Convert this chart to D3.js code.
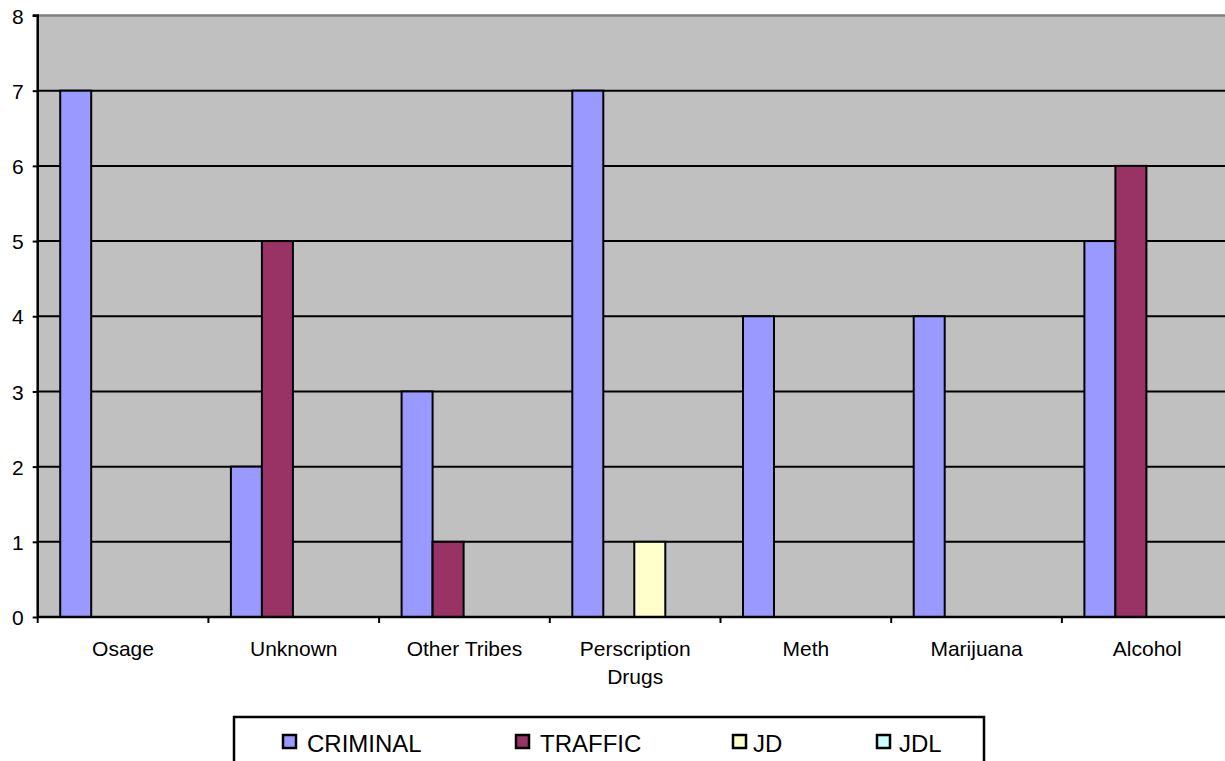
<!DOCTYPE html>
<html><head><meta charset="utf-8">
<script src="https://cdn.jsdelivr.net/npm/d3@7"></script>
<style>html,body{margin:0;padding:0;background:#fff;overflow:hidden}svg{display:block}</style>
</head><body>
<script>
const categories = ["Osage","Unknown","Other Tribes","Perscription Drugs","Meth","Marijuana","Alcohol"];
const seriesNames = ["CRIMINAL","TRAFFIC","JD","JDL"];
const criminal = [7,2,3,7,4,4,5];
const traffic  = [0,5,1,0,0,0,6];
const jd       = [0,0,0,1,0,0,0];
const jdl      = [0,0,0,0,0,0,0];
const yTicks = [0,1,2,3,4,5,6,7,8];
const colors = ["#9999FF","#993366","#FFFFCC","#CCFFFF"];

const W = 1225, H = 761;
const svg = d3.select("body").append("svg").attr("width",W).attr("height",H);
const font = "Liberation Sans, Arial, sans-serif";

const x0 = d3.scaleBand().domain(categories).range([37.7, 37.7+7*170.7]).padding(0);
const x1 = d3.scaleBand().domain(seriesNames).range([22.5, 146.5]).padding(0);
const y = d3.scaleLinear().domain([0,8]).range([617, 15.5]);

const plotL = 37.7, plotR = 1240;
svg.append("rect").attr("x",plotL).attr("y",y(8)).attr("width",plotR-plotL).attr("height",y(0)-y(8)).attr("fill","#C0C0C0");
svg.append("line").attr("x1",plotL).attr("x2",plotR).attr("y1",y(8)).attr("y2",y(8)).attr("stroke","#808080").attr("stroke-width",2.5);
svg.append("g").selectAll("line").data(yTicks.filter(t=>t>0&&t<8)).join("line")
  .attr("x1",plotL).attr("x2",plotR).attr("y1",d=>y(d)).attr("y2",d=>y(d))
  .attr("stroke","#000").attr("stroke-width",2);

const data = categories.map((c,i)=>({cat:c, vals:[criminal[i],traffic[i],jd[i],jdl[i]]}));
const g = svg.append("g").selectAll("g").data(data).join("g").attr("transform",d=>`translate(${x0(d.cat)},0)`);
g.selectAll("rect").data(d=>d.vals.map((v,j)=>({s:seriesNames[j],v,j})).filter(e=>e.v>0)).join("rect")
  .attr("x",e=>x1(e.s)).attr("width",x1.bandwidth())
  .attr("y",e=>y(e.v)).attr("height",e=>y(0)-y(e.v))
  .attr("fill",e=>colors[e.j]).attr("stroke","#000").attr("stroke-width",2);

const yAxis = d3.axisLeft(y).tickValues(yTicks).tickSize(5).tickPadding(9).tickFormat(d3.format("d"));
const ya = svg.append("g").attr("transform",`translate(${plotL},0)`).call(yAxis);
ya.select(".domain").attr("stroke","#000").attr("stroke-width",2.5).attr("d",`M-5,${y(8)}H0V${y(0)}`);
ya.selectAll(".tick line").attr("stroke","#000").attr("stroke-width",2);
ya.selectAll("text").attr("font-family",font).attr("font-size",21).attr("fill","#000").attr("dy","0.36em");

const xb = svg.append("g");
xb.append("line").attr("x1",plotL).attr("x2",plotR).attr("y1",y(0)).attr("y2",y(0)).attr("stroke","#000").attr("stroke-width",2.5);
const bounds = categories.map(c=>x0(c)).concat([x0(categories[6])+x0.bandwidth()]);
xb.selectAll("line.t").data(bounds).join("line").attr("class","t")
  .attr("x1",d=>d).attr("x2",d=>d).attr("y1",y(0)).attr("y2",y(0)+6).attr("stroke","#000").attr("stroke-width",2);

const labelLines = {"Perscription Drugs":["Perscription","Drugs"]};
categories.forEach(c=>{
  const lines = labelLines[c] || [c];
  const cx = x0(c)+x0.bandwidth()/2;
  const t = svg.append("text").attr("x",cx).attr("y",656)
    .attr("text-anchor","middle").attr("font-family",font).attr("font-size",21).attr("fill","#000");
  lines.forEach((l,i)=>t.append("tspan").attr("x",cx).attr("dy",i?28:0).text(l));
});

const lg = svg.append("g");
lg.append("rect").attr("x",234).attr("y",717).attr("width",750).attr("height",60).attr("fill","#fff").attr("stroke","#000").attr("stroke-width",2.5);
const legX = [283,516,733,877];
const legTX = [307,540,753,899];
seriesNames.forEach((s,i)=>{
  lg.append("rect").attr("x",legX[i]).attr("y",735).attr("width",13).attr("height",13)
    .attr("fill",colors[i]).attr("stroke","#000").attr("stroke-width",2.5);
  lg.append("text").attr("x",legTX[i]).attr("y",752).attr("font-family",font).attr("font-size",24).attr("fill","#000").text(s);
});
</script>
</body></html>
